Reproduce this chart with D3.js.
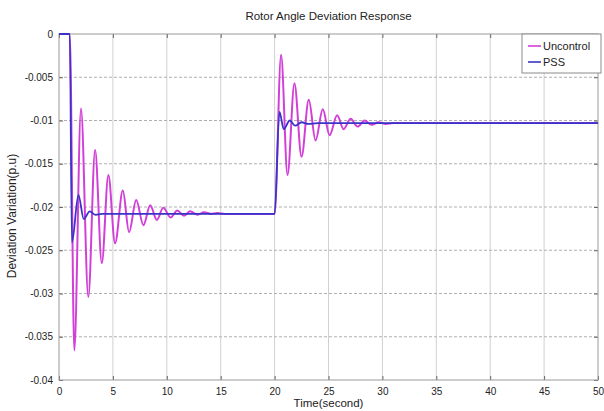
<!DOCTYPE html>
<html>
<head>
<meta charset="utf-8">
<script src="https://d3js.org/d3.v7.min.js"></script>
<style>
    body { margin: 0; background: #fff; }
    text { font-family: "Liberation Sans", Arial, sans-serif; fill: #222; }
    .grid line { stroke: #d0d0d0; stroke-width: 1; }
    .grid-y line { stroke-dasharray: 3,2; stroke: #b0b0b0; }
</style>
</head>
<body>
<div id="chart"></div>
<script>
// values
var xTicks = [0, 5, 10, 15, 20, 25, 30, 35, 40, 45, 50];
var yTicks = [0, -0.005, -0.01, -0.015, -0.02, -0.025, -0.03, -0.035, -0.04];
var seriesNames = ['Uncontrol', 'PSS'];
var seriesColors = ['#d23fd8', '#3a33c8'];

// [time, deviation]
var uncontrol = [
    [0, 0], [1, 0], [1.42, -0.0366], [2.04, -0.0086], [2.72, -0.0304], [3.35, -0.0134],
    [3.97, -0.0265], [4.58, -0.0163], [5.2, -0.0242], [5.92, -0.0181], [6.5, -0.0229],
    [7.16, -0.0192], [7.83, -0.0221], [8.46, -0.0198], [9.08, -0.0215], [9.67, -0.0201],
    [10.35, -0.0212], [10.97, -0.0204], [11.6, -0.0210], [12.17, -0.0205], [12.85, -0.0209],
    [13.45, -0.0206], [14.1, -0.0208], [14.7, -0.0207], [15.4, -0.0208], [20, -0.0208],
    [20.6, -0.0024], [21.2, -0.0163], [21.84, -0.0057], [22.5, -0.0142], [23.17, -0.0076],
    [23.8, -0.0123], [24.47, -0.0087], [25.1, -0.0117], [25.8, -0.0094], [26.4, -0.0110],
    [27.05, -0.0098], [27.7, -0.0107], [28.35, -0.0100], [29.0, -0.0105], [29.65, -0.0102],
    [30.3, -0.0104], [31, -0.0103], [50, -0.0103]
];
var pss = [
    [0, 0], [1, 0], [1.2, -0.0241], [1.8, -0.0186], [2.3, -0.0214], [2.85, -0.0205],
    [3.4, -0.0209], [4, -0.0208], [20, -0.0208], [20.45, -0.0090], [20.85, -0.0110],
    [21.4, -0.0100], [21.9, -0.0106], [22.5, -0.0102], [23.1, -0.0104], [24, -0.0103],
    [50, -0.0103]
];

var W = 604, H = 411;
var margin = {top: 34, right: 6, bottom: 31, left: 59},
    width = W - margin.left - margin.right,
    height = H - margin.top - margin.bottom;

var svg = d3.select('#chart').append('svg')
    .attr('width', W)
    .attr('height', H);
var g = svg.append('g').attr('transform', 'translate(' + margin.left + ',' + margin.top + ')');

var x = d3.scaleLinear().domain([0, 50]).range([0, width]);
var y = d3.scaleLinear().domain([-0.04, 0]).range([height, 0]);

// grid
g.append('g').attr('class', 'grid')
    .selectAll('line').data(xTicks.slice(1, -1)).enter().append('line')
    .attr('x1', function (d) { return x(d); }).attr('x2', function (d) { return x(d); })
    .attr('y1', 0).attr('y2', height);
g.append('g').attr('class', 'grid grid-y')
    .selectAll('line').data(yTicks.slice(1, -1)).enter().append('line')
    .attr('y1', function (d) { return y(d); }).attr('y2', function (d) { return y(d); })
    .attr('x1', 0).attr('x2', width);

// axes, matlab style ticks inside
var fmt = function (d) { return d === 0 ? '0' : String(+d.toFixed(3)); };
var xAxis = g.append('g')
    .attr('transform', 'translate(0,' + height + ')')
    .call(d3.axisBottom(x).tickValues(xTicks).tickSize(-4).tickPadding(8).tickFormat(fmt));
var yAxis = g.append('g')
    .call(d3.axisLeft(y).tickValues(yTicks).tickSize(-4).tickPadding(8).tickFormat(fmt));
g.append('g')
    .call(d3.axisTop(x).tickValues(xTicks).tickSize(-4).tickFormat(''));
g.append('g').attr('transform', 'translate(' + width + ',0)')
    .call(d3.axisRight(y).tickValues(yTicks).tickSize(-4).tickFormat(''));
g.selectAll('.domain').remove();
g.selectAll('.tick line').attr('stroke', '#666');
g.selectAll('.tick text').style('font-size', '10px').attr('fill', '#222');
yAxis.selectAll('.tick text').attr('x', -6);

g.append('rect')
    .attr('width', width).attr('height', height)
    .attr('fill', 'none').attr('stroke', '#9a9a9a');

// series
var line = d3.line()
    .curve(d3.curveMonotoneX)
    .x(function (d) { return x(d[0]); })
    .y(function (d) { return y(d[1]); });

[uncontrol, pss].forEach(function (data, i) {
    g.append('path')
        .datum(data)
        .attr('fill', 'none')
        .attr('stroke', seriesColors[i])
        .attr('stroke-width', i === 0 ? 2 : 1.8)
        .attr('stroke-linejoin', 'round')
        .attr('d', line);
});

// titles
svg.append('text')
    .attr('x', margin.left + width / 2).attr('y', 20)
    .attr('text-anchor', 'middle').style('font-size', '11.5px')
    .text('Rotor Angle Deviation Response');
svg.append('text')
    .attr('x', margin.left + width / 2).attr('y', 407)
    .attr('text-anchor', 'middle').style('font-size', '11.5px')
    .text('Time(second)');
svg.append('text')
    .attr('transform', 'translate(16,' + 216 + ') rotate(-90)')
    .attr('text-anchor', 'middle').style('font-size', '12px')
    .text('Deviation Variation(p.u)');

// legend
var lg = svg.append('g').attr('transform', 'translate(522,34)');
lg.append('rect')
    .attr('width', 79).attr('height', 39)
    .attr('fill', '#fff').attr('stroke', '#8a8a8a');
seriesNames.forEach(function (name, i) {
    var yy = 12 + i * 16;
    lg.append('line')
        .attr('x1', 6).attr('x2', 19).attr('y1', yy).attr('y2', yy)
        .attr('stroke', seriesColors[i]).attr('stroke-width', 1.6);
    lg.append('text')
        .attr('x', 21).attr('y', yy + 4)
        .style('font-size', '11px')
        .text(name);
});
</script>
</body>
</html>
